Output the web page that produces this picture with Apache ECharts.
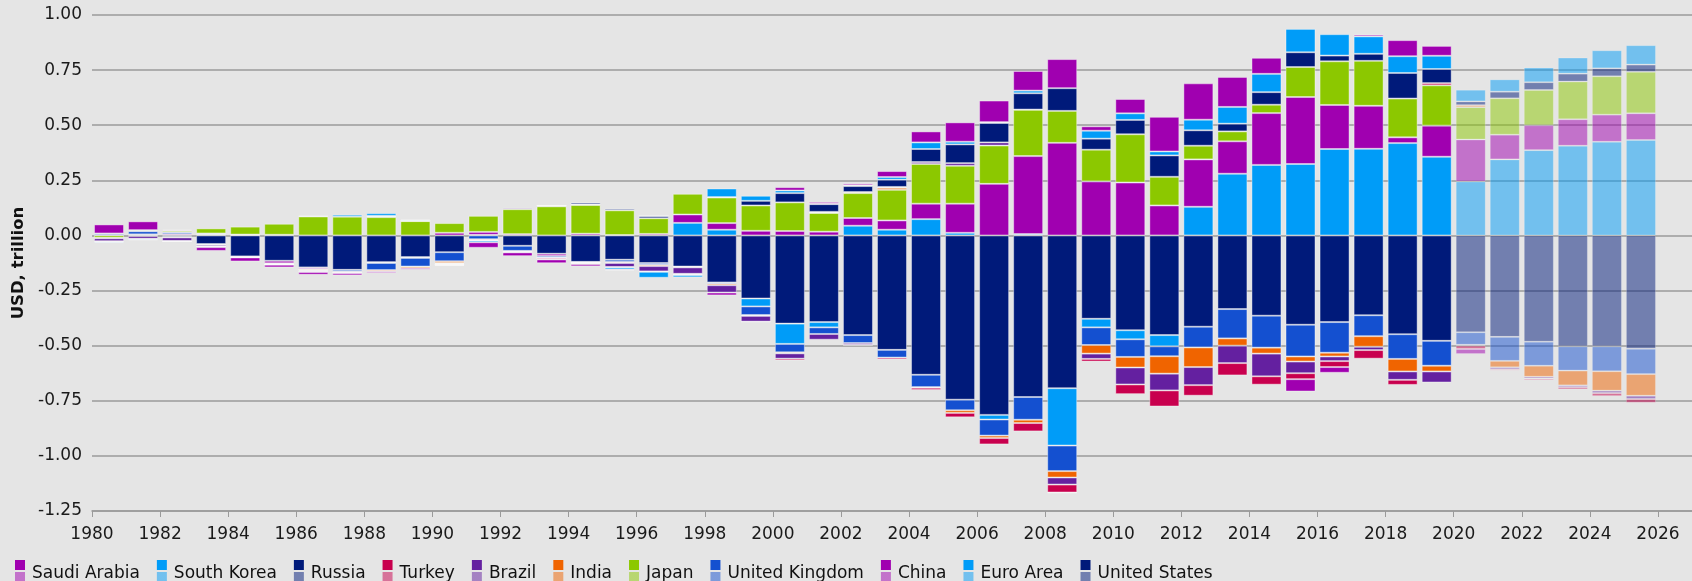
<!DOCTYPE html>
<html>
<head>
<meta charset="utf-8">
<script src="https://cdn.jsdelivr.net/npm/echarts@6.0.0/dist/echarts.min.js"></script>
<style>
  html, body { margin: 0; padding: 0; background: #e5e5e5; }
  #chart { width: 1692px; height: 581px; }
</style>
</head>
<body>
<div id="chart"></div>
<script>
// current account balances, USD trillion, 1980-2025 (2020 on = projection)
const years = [
  1980, 1981, 1982, 1983, 1984, 1985, 1986, 1987, 1988, 1989,
  1990, 1991, 1992, 1993, 1994, 1995, 1996, 1997, 1998, 1999,
  2000, 2001, 2002, 2003, 2004, 2005, 2006, 2007, 2008, 2009,
  2010, 2011, 2012, 2013, 2014, 2015, 2016, 2017, 2018, 2019,
  2020, 2021, 2022, 2023, 2024, 2025
];
const firstProjection = 2020;

const unitedStates = [
  0.002, 0.005, -0.006, -0.039, -0.095, -0.115, -0.145, -0.156, -0.121, -0.098,
  -0.076, 0.003, -0.047, -0.083, -0.120, -0.110, -0.125, -0.141, -0.213, -0.286,
  -0.400, -0.393, -0.452, -0.519, -0.632, -0.745, -0.814, -0.733, -0.693, -0.378,
  -0.430, -0.452, -0.414, -0.334, -0.364, -0.405, -0.393, -0.362, -0.448, -0.478,
  -0.439, -0.460, -0.482, -0.503, -0.503, -0.514
];
const euroArea = [
  null, null, null, null, null, null, null, null, null, null,
  null, null, null, null, null, null, null, 0.057, 0.026, -0.036,
  -0.092, -0.024, 0.044, 0.026, 0.074, 0.012, -0.021, 0.006, -0.260, -0.039,
  -0.041, -0.051, 0.130, 0.280, 0.320, 0.324, 0.392, 0.393, 0.419, 0.357,
  0.245, 0.345, 0.387, 0.407, 0.425, 0.433
];
const china = [
  0.000, 0.000, 0.006, 0.004, 0.002, -0.011, -0.007, 0.000, -0.004, -0.004,
  0.012, 0.013, 0.006, -0.010, 0.008, 0.002, 0.007, 0.038, 0.030, 0.021,
  0.020, 0.017, 0.035, 0.042, 0.070, 0.132, 0.234, 0.354, 0.420, 0.245,
  0.240, 0.136, 0.215, 0.147, 0.235, 0.304, 0.200, 0.195, 0.026, 0.141,
  0.190, 0.112, 0.113, 0.120, 0.123, 0.121
];
const unitedKingdom = [
  0.007, 0.014, 0.008, 0.005, 0.002, 0.003, -0.002, -0.008, -0.032, -0.039,
  -0.041, -0.017, -0.023, -0.008, -0.002, -0.010, -0.008, -0.001, -0.006, -0.039,
  -0.038, -0.030, -0.036, -0.035, -0.056, -0.048, -0.073, -0.103, -0.116, -0.080,
  -0.080, -0.045, -0.094, -0.133, -0.145, -0.144, -0.139, -0.095, -0.112, -0.113,
  -0.057, -0.109, -0.109, -0.110, -0.113, -0.115
];
const japan = [
  -0.011, 0.005, 0.007, 0.023, 0.036, 0.050, 0.086, 0.085, 0.083, 0.065,
  0.044, 0.073, 0.113, 0.132, 0.130, 0.112, 0.071, 0.094, 0.116, 0.115,
  0.130, 0.085, 0.113, 0.139, 0.180, 0.172, 0.174, 0.210, 0.145, 0.144,
  0.219, 0.130, 0.062, 0.045, 0.038, 0.136, 0.198, 0.204, 0.176, 0.183,
  0.147, 0.165, 0.160, 0.171, 0.174, 0.188
];
const india = [
  -0.002, -0.003, -0.003, -0.003, -0.003, -0.004, -0.005, -0.005, -0.006, -0.007,
  -0.008, -0.005, -0.004, -0.001, -0.002, -0.005, -0.006, -0.003, -0.007, -0.004,
  -0.005, 0.001, 0.005, 0.009, -0.003, -0.012, -0.011, -0.015, -0.029, -0.039,
  -0.048, -0.079, -0.089, -0.033, -0.027, -0.023, -0.017, -0.048, -0.057, -0.026,
  0.009, -0.029, -0.050, -0.067, -0.088, -0.098
];
const brazil = [
  -0.013, -0.012, -0.016, -0.007, 0.000, -0.001, -0.005, -0.001, 0.004, 0.001,
  -0.004, -0.001, 0.006, -0.001, -0.002, -0.018, -0.024, -0.029, -0.033, -0.026,
  -0.024, -0.026, -0.009, 0.004, 0.009, 0.012, 0.014, 0.001, -0.032, -0.024,
  -0.077, -0.076, -0.082, -0.079, -0.103, -0.053, -0.021, -0.015, -0.038, -0.050,
  -0.004, -0.009, -0.008, -0.008, -0.011, -0.015
];
const turkey = [
  -0.003, -0.002, -0.001, -0.002, -0.001, -0.001, -0.002, -0.001, 0.002, 0.001,
  -0.003, 0.000, -0.001, -0.006, 0.003, -0.002, -0.002, -0.003, 0.002, -0.001,
  -0.008, 0.004, -0.001, -0.008, -0.010, -0.020, -0.029, -0.038, -0.036, -0.012,
  -0.044, -0.073, -0.048, -0.056, -0.038, -0.027, -0.027, -0.039, -0.023, 0.010,
  -0.015, -0.006, -0.007, -0.010, -0.014, -0.017
];
const russia = [
  null, null, null, null, null, null, null, null, null, null,
  null, null, null, 0.003, 0.008, 0.007, 0.010, -0.003, 0.000, 0.021,
  0.042, 0.035, 0.027, 0.033, 0.059, 0.085, 0.088, 0.074, 0.103, 0.050,
  0.065, 0.097, 0.070, 0.035, 0.057, 0.067, 0.026, 0.032, 0.116, 0.064,
  0.017, 0.030, 0.035, 0.036, 0.036, 0.033
];
const southKorea = [
  -0.005, -0.005, -0.003, -0.002, -0.001, -0.001, 0.003, 0.009, 0.012, 0.005,
  -0.002, -0.008, -0.002, 0.001, -0.004, -0.009, -0.027, -0.010, 0.039, 0.023,
  0.012, 0.002, 0.004, 0.012, 0.030, 0.012, 0.004, 0.012, -0.002, 0.036,
  0.030, 0.018, 0.048, 0.076, 0.083, 0.106, 0.097, 0.079, 0.076, 0.060,
  0.053, 0.056, 0.067, 0.073, 0.082, 0.088
];
const saudiArabia = [
  0.041, 0.040, 0.005, -0.017, -0.018, -0.012, -0.012, -0.010, -0.007, -0.007,
  -0.004, -0.025, -0.017, -0.017, -0.010, -0.005, 0.001, 0.000, -0.013, 0.000,
  0.015, 0.008, 0.008, 0.027, 0.050, 0.088, 0.098, 0.089, 0.132, 0.020,
  0.065, 0.157, 0.165, 0.136, 0.073, -0.056, -0.026, 0.008, 0.073, 0.045,
  -0.023, 0.000, 0.000, 0.000, 0.000, 0.000
];

const yTicks = [-1.25, -1.0, -0.75, -0.5, -0.25, 0, 0.25, 0.5, 0.75, 1.0];

// colours (the palette repeats after 8 countries)
const MAGENTA = "#a000b0";
const SKY = "#009cf8";
const NAVY = "#001a7a";
const CRIMSON = "#c8004e";
const PURPLE = "#6420a0";
const ORANGE = "#f06400";
const GREEN = "#8cc800";
const ROYAL = "#1450d0";
const BG = "#e5e5e5";

// stacking order, from the zero line outwards
const countries = [
  { name: "United States", values: unitedStates, color: NAVY },
  { name: "Euro Area", values: euroArea, color: SKY },
  { name: "China", values: china, color: MAGENTA },
  { name: "United Kingdom", values: unitedKingdom, color: ROYAL },
  { name: "Japan", values: japan, color: GREEN },
  { name: "India", values: india, color: ORANGE },
  { name: "Brazil", values: brazil, color: PURPLE },
  { name: "Turkey", values: turkey, color: CRIMSON },
  { name: "Russia", values: russia, color: NAVY },
  { name: "South Korea", values: southKorea, color: SKY },
  { name: "Saudi Arabia", values: saudiArabia, color: MAGENTA },
];

const halfTone = (hex) => {
  const r = parseInt(hex.slice(1, 3), 16);
  const g = parseInt(hex.slice(3, 5), 16);
  const b = parseInt(hex.slice(5, 7), 16);
  return "rgba(" + r + "," + g + "," + b + ",0.5)";
};

const series = countries.map((c) => ({
  name: c.name,
  type: "bar",
  stack: "ca",
  xAxisIndex: 0,
  barWidth: 30,
  color: c.color,
  itemStyle: {
    color: c.color,
    borderColor: "rgba(255,255,255,0.4)",
    borderWidth: 1,
  },
  data: c.values.map((v, i) => {
    if (v === null || v === 0) return "-";
    if (years[i] >= firstProjection) {
      return { value: v, itemStyle: { opacity: 0.5 } };
    }
    return v;
  }),
}));

// two-tone legend swatch: actual colour on top, projection tone below
const legendData = countries.slice().reverse().map((c) => ({
  name: c.name,
  itemStyle: {
    color: new echarts.graphic.LinearGradient(0, 0, 0, 1, [
      { offset: 0, color: c.color },
      { offset: 0.38, color: c.color },
      { offset: 0.38, color: BG },
      { offset: 0.43, color: BG },
      { offset: 0.43, color: halfTone(c.color) },
      { offset: 1, color: halfTone(c.color) },
    ]),
    borderWidth: 0,
  },
}));

const chart = echarts.init(document.getElementById("chart"), null, { renderer: "canvas" });

const option = {
  animation: false,
  backgroundColor: BG,
  textStyle: { fontFamily: "DejaVu Sans" },
  grid: { left: 92, right: -7, top: 15, bottom: 70 },
  legend: {
    data: legendData,
    left: 15,
    top: 560,
    padding: 0,
    icon: "rect",
    itemWidth: 10,
    itemHeight: 27,
    itemGap: 17,
    textStyle: { fontSize: 17, color: "#111", fontFamily: "DejaVu Sans", padding: [0, 0, 0, 2] },
  },
  xAxis: [
    {
      type: "category",
      data: years.concat([""]),
      show: false,
      boundaryGap: true,
    },
    {
      type: "value",
      position: "bottom",
      min: 1980,
      max: 2027,
      interval: 2,
      axisLine: { show: true, onZero: false, lineStyle: { color: "#9a9a9a", width: 1.5 } },
      axisTick: { show: true, length: 6, lineStyle: { color: "#9a9a9a", width: 1 } },
      axisLabel: {
        fontSize: 17,
        color: "#1a1a1a",
        margin: 15,
        showMaxLabel: false,
        formatter: (v) => String(Math.round(v)),
      },
      splitLine: { show: false },
    },
  ],
  yAxis: {
    type: "value",
    min: yTicks[0],
    max: yTicks[yTicks.length - 1],
    interval: 0.25,
    name: "USD, trillion",
    nameLocation: "middle",
    nameGap: 63,
    nameTextStyle: { fontSize: 16.5, fontWeight: "bold", color: "#111" },
    axisLine: { show: false },
    axisTick: { show: false },
    axisLabel: {
      fontSize: 17,
      color: "#1a1a1a",
      margin: 10,
      formatter: (v) => v.toFixed(2),
    },
    splitLine: { lineStyle: { color: "#9a9a9a", width: 1.5 } },
  },
  series: series,
};

chart.setOption(option);
</script>
</body>
</html>
